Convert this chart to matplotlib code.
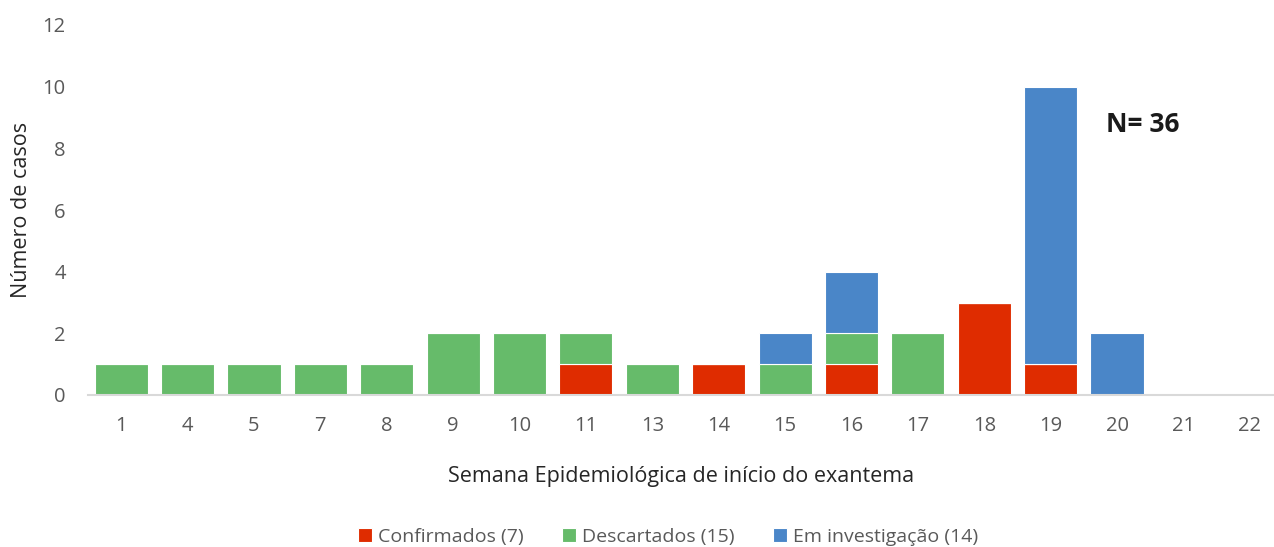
import matplotlib
matplotlib.use("Agg")
import matplotlib.pyplot as plt
import numpy as np

plt.rcParams['font.family'] = ['Open Sans', 'DejaVu Sans']

semanas = ["1", "4", "5", "7", "8", "9", "10", "11", "13", "14", "15", "16", "17", "18", "19", "20", "21", "22"]
confirmados = [0, 0, 0, 0, 0, 0, 0, 1, 0, 1, 0, 1, 0, 3, 1, 0, 0, 0]
descartados = [1, 1, 1, 1, 1, 2, 2, 1, 1, 0, 1, 1, 2, 0, 0, 0, 0, 0]
investigacao = [0, 0, 0, 0, 0, 0, 0, 0, 0, 0, 1, 2, 0, 0, 9, 2, 0, 0]
legendas = ["Confirmados (7)", "Descartados (15)", "Em investigação (14)"]
cores = ["#DF2C00", "#66BB6A", "#4A86C8"]
y_ticks = [0, 2, 4, 6, 8, 10, 12]

fig = plt.figure(figsize=(12.74, 5.47), dpi=100)
ax = fig.add_axes([88/1274, 152/547, (1274-88)/1274, 370/547])

x = np.arange(len(semanas))
c = np.array(confirmados)
d = np.array(descartados)
i = np.array(investigacao)
w = 0.8
ax.bar(x, c, w, color=cores[0], edgecolor='white', linewidth=0.8, label=legendas[0])
ax.bar(x, d, w, bottom=c, color=cores[1], edgecolor='white', linewidth=0.8, label=legendas[1])
ax.bar(x, i, w, bottom=c + d, color=cores[2], edgecolor='white', linewidth=0.8, label=legendas[2])

ax.set_ylim(0, 12)
ax.set_xlim(-0.5, 17.5 - 9/66.4)
ax.set_yticks(y_ticks)
ax.set_xticks(x)
ax.set_xticklabels(semanas)
for s in ['top', 'right', 'left']:
    ax.spines[s].set_visible(False)
ax.spines['bottom'].set_color('#D9D9D9')
ax.spines['bottom'].set_linewidth(1.5)
ax.tick_params(axis='both', length=0, labelsize=14.5, colors='#595959')
ax.tick_params(axis='y', pad=16)
ax.tick_params(axis='x', pad=15)

ax.set_xlabel("Semana Epidemiológica de início do exantema", fontsize=15.5, color='#262626', labelpad=22)
ax.set_ylabel("Número de casos", fontsize=15.5, color='#262626')
ax.yaxis.set_label_coords(-56/1186, 0.5)

ax.text(15.39, 8.76, "N= 36", fontsize=19, fontweight='bold', color='#1a1a1a', ha='center', va='center')

leg = fig.legend(loc='center', bbox_to_anchor=(668/1274, 1 - 537/547), ncol=3, frameon=False,
                 fontsize=14, handlelength=0.7, handleheight=0.7, handletextpad=0.3, columnspacing=2.0,
                 labelcolor='#595959')

fig.savefig("out.png", dpi=100)
